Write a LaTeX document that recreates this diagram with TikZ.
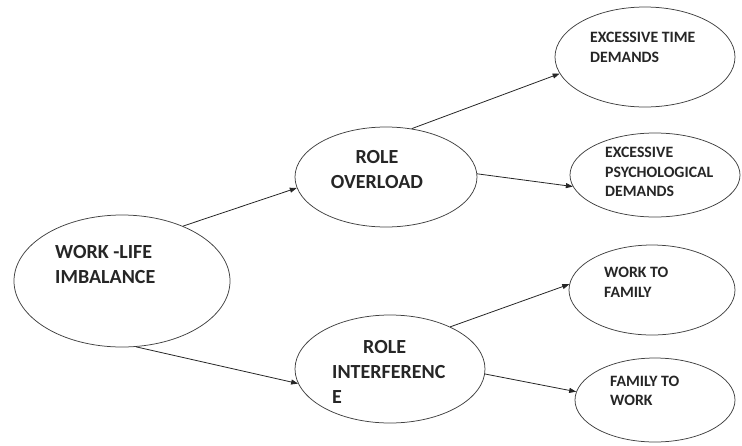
\documentclass[tikz,border=0pt]{standalone}
\usepackage{fontspec}
\setmainfont{Carlito}
\usetikzlibrary{shapes.geometric,arrows.meta}
\begin{document}
\begin{tikzpicture}[x=1pt,y=-1pt,
  oval/.style={draw=black!75,line width=0.75pt,ellipse,inner sep=0pt},
  bigtxt/.style={font=\bfseries\fontsize{20}{25}\selectfont,inner sep=0pt,text=black!85},
  smalltxt/.style={font=\bfseries\fontsize{15.8}{19.5}\selectfont,inner sep=0pt,text=black!85},
  conn/.style={draw=black!85,line width=0.8pt,-{Triangle[length=7pt,width=5pt]}}]
\useasboundingbox (0,0) rectangle (742,445);
% ellipses
\node[oval,minimum width=216pt,minimum height=132pt] (e1) at (122,281) {};
\node[oval,minimum width=182pt,minimum height=100pt] (e2) at (386,177) {};
\node[oval,minimum width=190pt,minimum height=108pt] (e3) at (390,369) {};
\node[oval,minimum width=180pt,minimum height=100pt] (e4) at (645,57) {};
\node[oval,minimum width=170pt,minimum height=84pt] (e5) at (655,175) {};
\node[oval,minimum width=166pt,minimum height=90pt] (e6) at (652,290) {};
\node[oval,minimum width=160pt,minimum height=84pt] (e7) at (655,400) {};
% texts
\node[bigtxt,anchor=west,align=left] (t1) at (55,264.5) {WORK -LIFE\\IMBALANCE};
\node[bigtxt,align=center] (t2) at (377,169.5) {ROLE\\OVERLOAD};
\node[bigtxt,anchor=west,align=left] (t3) at (332,372) {\hspace*{31pt}ROLE\\INTERFERENC\\E};
\node[smalltxt,anchor=west,align=left] (t4) at (590,47.5) {EXCESSIVE TIME\\DEMANDS};
\node[smalltxt,anchor=west,align=left] (t5) at (605,172) {EXCESSIVE\\PSYCHOLOGICAL\\DEMANDS};
\node[smalltxt,anchor=west,align=left] (t6) at (604,282.5) {WORK TO\\FAMILY};
\node[smalltxt,anchor=west,align=left] (t7) at (610,391) {FAMILY TO\\WORK};
% connectors
\draw[conn] (e1.42.6) -- (e2.187);
\draw[conn] (e1.-78.7) -- (e3.189);
\draw[conn] (e2.62.6) -- (e4.191.7);
\draw[conn] (e2.2) -- (e5.188);
\draw[conn] (e3.35) -- (e6.176.5);
\draw[conn] (e3.-3) -- (e7.174);
\end{tikzpicture}
\end{document}
